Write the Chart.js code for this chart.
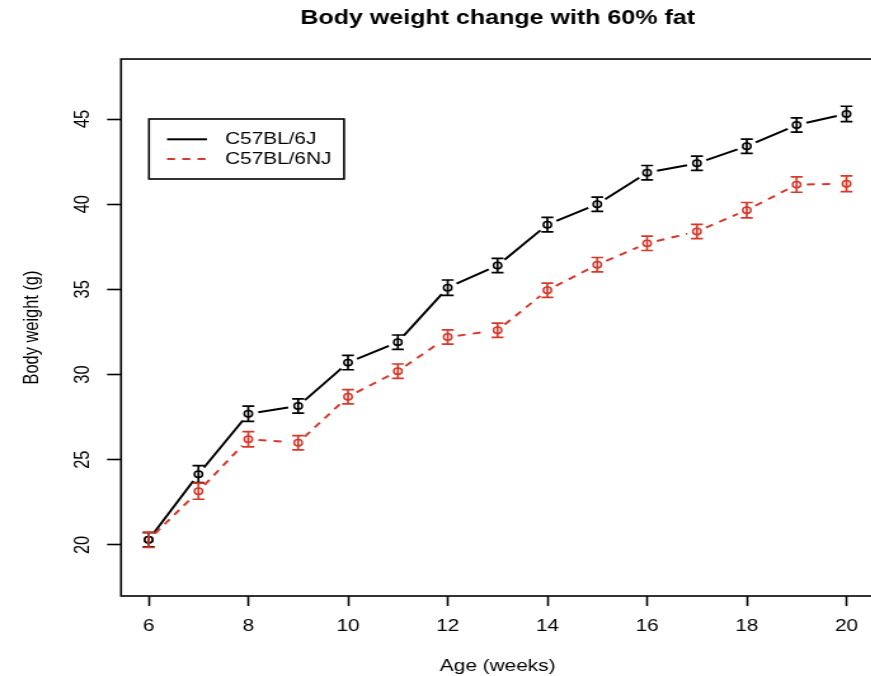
<!DOCTYPE html>
<html>
<head>
<meta charset="utf-8">
<script src="https://cdn.jsdelivr.net/npm/chart.js@4/dist/chart.umd.min.js"></script>
<style>
  html, body { margin: 0; padding: 0; background: #fff; overflow: hidden; width: 871px; height: 676px; }
  #wrap { position: absolute; left: 0; top: 0; transform: scaleX(1.27); transform-origin: 0 0; }
  canvas { display: block; }
</style>
</head>
<body>
<div id="wrap"><canvas id="c" width="694" height="676"></canvas></div>
<script>
// Age in weeks
const weeks = [6, 7, 8, 9, 10, 11, 12, 13, 14, 15, 16, 17, 18, 19, 20];

// Mean body weight (g) and standard error per strain
const strainNames = ['C57BL/6J', 'C57BL/6NJ'];
const weightJ = [20.3, 24.15, 27.7, 28.15, 30.7, 31.9, 35.1, 36.4, 38.8, 40.0, 41.85, 42.4, 43.4, 44.65, 45.3];
const errJ = [0.42, 0.5, 0.45, 0.42, 0.42, 0.42, 0.45, 0.42, 0.42, 0.42, 0.42, 0.42, 0.42, 0.42, 0.45];
const weightNJ = [20.3, 23.15, 26.2, 26.0, 28.7, 30.2, 32.2, 32.6, 34.95, 36.45, 37.7, 38.4, 39.65, 41.15, 41.2];
const errNJ = [0.45, 0.47, 0.45, 0.42, 0.42, 0.42, 0.42, 0.42, 0.42, 0.42, 0.42, 0.42, 0.45, 0.45, 0.46];

// Axis tick positions
const xTicks = [6, 8, 10, 12, 14, 16, 18, 20];
const yTicks = [20, 25, 30, 35, 40, 45];

const RED = '#D5392B';
const FONT = "'Liberation Sans', Arial, Helvetica, sans-serif";

// Connect points with segments that stop short of each marker; dashed for the second strain
const gapLines = {
  id: 'gapLines',
  beforeDatasetsDraw(chart) {
    const ctx = chart.ctx;
    const gap = 8;
    chart.data.datasets.forEach((ds, i) => {
      const pts = chart.getDatasetMeta(i).data;
      ctx.save();
      ctx.strokeStyle = ds.borderColor;
      ctx.lineWidth = 2;
      ctx.setLineDash(ds.dash || []);
      ctx.beginPath();
      for (let k = 0; k < pts.length - 1; k++) {
        const a = pts[k], b = pts[k + 1];
        const dx = b.x - a.x, dy = b.y - a.y;
        const len = Math.hypot(dx, dy);
        if (len <= 2 * gap) continue;
        const ux = dx / len, uy = dy / len;
        ctx.moveTo(a.x + ux * gap, a.y + uy * gap);
        ctx.lineTo(b.x - ux * gap, b.y - uy * gap);
      }
      ctx.stroke();
      ctx.restore();
    });
  },
  // Error bars with caps, drawn from each series' standard error through the y scale
  afterDatasetsDraw(chart) {
    const ctx = chart.ctx;
    const ys = chart.scales.y;
    const cap = 4.7;
    chart.data.datasets.forEach((ds, i) => {
      const pts = chart.getDatasetMeta(i).data;
      ctx.save();
      ctx.strokeStyle = ds.borderColor;
      ctx.lineWidth = 1.7;
      ctx.beginPath();
      pts.forEach((p, k) => {
        const v = ds.data[k].y, e = ds.err[k];
        const y1 = ys.getPixelForValue(v - e), y2 = ys.getPixelForValue(v + e);
        ctx.moveTo(p.x, y1); ctx.lineTo(p.x, y2);
        ctx.moveTo(p.x - cap, y1); ctx.lineTo(p.x + cap, y1);
        ctx.moveTo(p.x - cap, y2); ctx.lineTo(p.x + cap, y2);
      });
      ctx.stroke();
      ctx.restore();
    });
  }
};

// Box around the plotting region and a boxed legend in its upper left
const frame = {
  id: 'frame',
  afterDraw(chart) {
    const ctx = chart.ctx;
    const a = chart.chartArea;
    ctx.save();
    ctx.strokeStyle = '#000';
    ctx.lineWidth = 1.6;
    ctx.strokeRect(a.left, a.top, a.right - a.left, a.bottom - a.top);

    const bx = 117.3, by = 119, bw = 153.6, bh = 60;
    ctx.fillStyle = '#fff';
    ctx.fillRect(bx, by, bw, bh);
    ctx.strokeRect(bx, by, bw, bh);
    const rows = [139.3, 159];
    chart.data.datasets.forEach((ds, i) => {
      ctx.strokeStyle = ds.borderColor;
      ctx.lineWidth = 2;
      ctx.setLineDash(ds.dash || []);
      ctx.beginPath();
      ctx.moveTo(131.5, rows[i]);
      ctx.lineTo(163, rows[i]);
      ctx.stroke();
      ctx.setLineDash([]);
      ctx.fillStyle = '#000';
      ctx.font = '16.4px ' + FONT;
      ctx.textBaseline = 'middle';
      ctx.textAlign = 'left';
      ctx.fillText(ds.label, 177.2, rows[i] + 0.5);
    });
    ctx.restore();
  }
};

const toPoints = (vals) => vals.map((v, k) => ({ x: weeks[k], y: v }));

new Chart(document.getElementById('c'), {
  type: 'scatter',
  data: {
    datasets: [
      {
        label: strainNames[0],
        data: toPoints(weightJ),
        err: errJ,
        borderColor: '#000',
        backgroundColor: 'rgba(0,0,0,0)',
        pointRadius: 3.2,
        pointBorderWidth: 1.5,
        showLine: false
      },
      {
        label: strainNames[1],
        data: toPoints(weightNJ),
        err: errNJ,
        dash: [6.3, 5.7],
        borderColor: RED,
        backgroundColor: 'rgba(0,0,0,0)',
        pointRadius: 3.2,
        pointBorderWidth: 1.5,
        showLine: false
      }
    ]
  },
  options: {
    responsive: false,
    animation: false,
    devicePixelRatio: 1,
    layout: { padding: { left: 0, right: 2.3, top: 0, bottom: 0 } },
    plugins: {
      legend: { display: false },
      tooltip: { enabled: false },
      title: {
        display: true,
        text: 'Body weight change with 60% fat',
        color: '#000',
        fullSize: false,
        font: { family: FONT, size: 19.7, weight: 'bold' },
        padding: { top: 7, bottom: 28.4 }
      }
    },
    scales: {
      x: {
        type: 'linear',
        min: 5.447,
        max: 20.56,
        afterBuildTicks: (s) => { s.ticks = xTicks.map(v => ({ value: v })); },
        afterFit: (s) => { s.height = 80; },
        border: { display: false },
        grid: { drawOnChartArea: false, tickLength: 10, tickColor: '#000', tickWidth: 1.6 },
        ticks: { color: '#000', padding: 11, maxRotation: 0, font: { family: FONT, size: 16.4 } },
        title: { display: true, text: 'Age (weeks)', color: '#000', padding: { top: 0, bottom: 0 }, font: { family: FONT, size: 16.4 } }
      },
      y: {
        type: 'linear',
        min: 17.0,
        max: 48.52,
        afterBuildTicks: (s) => { s.ticks = yTicks.map(v => ({ value: v })); },
        afterFit: (s) => { s.width = 95.3; },
        border: { display: false },
        grid: { drawOnChartArea: false, tickLength: 11, tickColor: '#000', tickWidth: 1.6 },
        ticks: { color: '#000', padding: 9.8, minRotation: 90, maxRotation: 90, crossAlign: 'center', font: { family: FONT, size: 16.4 } },
        title: { display: true, text: 'Body weight (g)', color: '#000', padding: { top: 16, bottom: 0 }, font: { family: FONT, size: 16.4 } }
      }
    }
  },
  plugins: [gapLines, frame]
});
</script>
</body>
</html>
